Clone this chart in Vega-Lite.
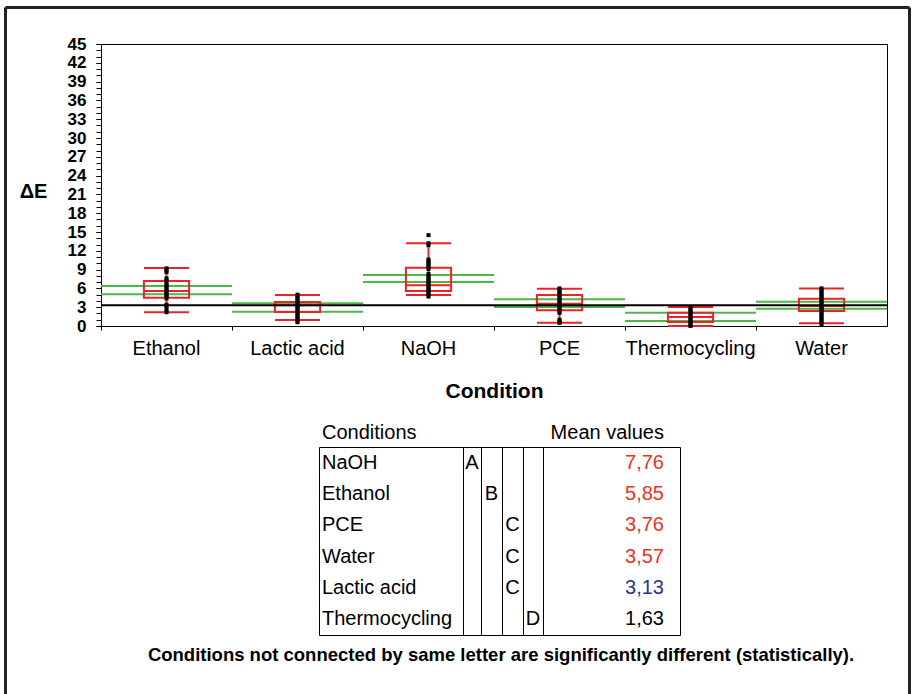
{
  "$schema": "https://vega.github.io/schema/vega-lite/v6.json",
  "padding": {"left": 3, "top": 5, "right": 0, "bottom": 0},
  "autosize": {"type": "pad"},
  "background": "white",
  "config": {
    "font": "Liberation Sans",
    "view": {"stroke": "black", "strokeWidth": 1},
    "axisY": {"labelOverlap": false},
    "locale": {"number": {"decimal": ",", "thousands": ".", "grouping": [3], "currency": ["", " €"]}},
    "title": {"font": "Liberation Sans", "color": "black"}
  },
  "datasets": {
    "stats": [
      {"Condition": "Ethanol", "lo": 2.2, "q1": 4.5, "median": 5.6, "q3": 7.2, "hi": 9.25, "ciLo": 5.05, "ciHi": 6.38},
      {"Condition": "Lactic acid", "lo": 0.96, "q1": 2.23, "median": 3.3, "q3": 3.83, "hi": 4.94, "ciLo": 2.28, "ciHi": 3.62},
      {"Condition": "NaOH", "lo": 4.94, "q1": 5.58, "median": 6.5, "q3": 9.3, "hi": 13.2, "ciLo": 7.02, "ciHi": 8.13},
      {"Condition": "PCE", "lo": 0.53, "q1": 2.5, "median": 3.56, "q3": 4.94, "hi": 5.95, "ciLo": 3.03, "ciHi": 4.25},
      {"Condition": "Thermocycling", "lo": 0.0, "q1": 0.64, "median": 1.44, "q3": 2.12, "hi": 3.03, "ciLo": 0.8, "ciHi": 2.12},
      {"Condition": "Water", "lo": 0.43, "q1": 2.39, "median": 3.19, "q3": 4.36, "hi": 6.0, "ciLo": 2.76, "ciHi": 3.88}
    ],
    "points": [
      {"Condition": "Ethanol", "dE": 9.2}, {"Condition": "Ethanol", "dE": 8.9}, {"Condition": "Ethanol", "dE": 8.6},
      {"Condition": "Ethanol", "dE": 7.6}, {"Condition": "Ethanol", "dE": 7.3}, {"Condition": "Ethanol", "dE": 6.8},
      {"Condition": "Ethanol", "dE": 6.5}, {"Condition": "Ethanol", "dE": 6.2}, {"Condition": "Ethanol", "dE": 5.9},
      {"Condition": "Ethanol", "dE": 5.6}, {"Condition": "Ethanol", "dE": 5.3}, {"Condition": "Ethanol", "dE": 5.0},
      {"Condition": "Ethanol", "dE": 4.7}, {"Condition": "Ethanol", "dE": 4.4}, {"Condition": "Ethanol", "dE": 3.4},
      {"Condition": "Ethanol", "dE": 3.1}, {"Condition": "Ethanol", "dE": 2.6}, {"Condition": "Ethanol", "dE": 2.2},
      {"Condition": "Lactic acid", "dE": 5.0}, {"Condition": "Lactic acid", "dE": 4.7}, {"Condition": "Lactic acid", "dE": 4.4},
      {"Condition": "Lactic acid", "dE": 4.1}, {"Condition": "Lactic acid", "dE": 3.8}, {"Condition": "Lactic acid", "dE": 3.5},
      {"Condition": "Lactic acid", "dE": 3.2}, {"Condition": "Lactic acid", "dE": 2.9}, {"Condition": "Lactic acid", "dE": 2.6},
      {"Condition": "Lactic acid", "dE": 2.3}, {"Condition": "Lactic acid", "dE": 2.0}, {"Condition": "Lactic acid", "dE": 1.7},
      {"Condition": "Lactic acid", "dE": 1.4}, {"Condition": "Lactic acid", "dE": 1.1}, {"Condition": "Lactic acid", "dE": 0.8},
      {"Condition": "Lactic acid", "dE": 0.6},
      {"Condition": "NaOH", "dE": 14.5}, {"Condition": "NaOH", "dE": 13.2}, {"Condition": "NaOH", "dE": 12.9},
      {"Condition": "NaOH", "dE": 10.6}, {"Condition": "NaOH", "dE": 10.3}, {"Condition": "NaOH", "dE": 10.0},
      {"Condition": "NaOH", "dE": 9.7}, {"Condition": "NaOH", "dE": 9.4}, {"Condition": "NaOH", "dE": 9.1},
      {"Condition": "NaOH", "dE": 8.3}, {"Condition": "NaOH", "dE": 8.0}, {"Condition": "NaOH", "dE": 7.7},
      {"Condition": "NaOH", "dE": 7.4}, {"Condition": "NaOH", "dE": 7.1}, {"Condition": "NaOH", "dE": 6.8},
      {"Condition": "NaOH", "dE": 6.5}, {"Condition": "NaOH", "dE": 6.2}, {"Condition": "NaOH", "dE": 5.9},
      {"Condition": "NaOH", "dE": 5.6}, {"Condition": "NaOH", "dE": 5.3}, {"Condition": "NaOH", "dE": 5.0},
      {"Condition": "NaOH", "dE": 4.7},
      {"Condition": "PCE", "dE": 6.0}, {"Condition": "PCE", "dE": 5.7}, {"Condition": "PCE", "dE": 5.4},
      {"Condition": "PCE", "dE": 5.1}, {"Condition": "PCE", "dE": 4.8}, {"Condition": "PCE", "dE": 4.5},
      {"Condition": "PCE", "dE": 4.2}, {"Condition": "PCE", "dE": 3.9}, {"Condition": "PCE", "dE": 3.6},
      {"Condition": "PCE", "dE": 3.3}, {"Condition": "PCE", "dE": 3.0}, {"Condition": "PCE", "dE": 2.7},
      {"Condition": "PCE", "dE": 2.4}, {"Condition": "PCE", "dE": 2.1}, {"Condition": "PCE", "dE": 1.0},
      {"Condition": "PCE", "dE": 0.7}, {"Condition": "PCE", "dE": 0.5},
      {"Condition": "Thermocycling", "dE": 2.9}, {"Condition": "Thermocycling", "dE": 2.6}, {"Condition": "Thermocycling", "dE": 2.3},
      {"Condition": "Thermocycling", "dE": 2.0}, {"Condition": "Thermocycling", "dE": 1.7}, {"Condition": "Thermocycling", "dE": 1.4},
      {"Condition": "Thermocycling", "dE": 1.1}, {"Condition": "Thermocycling", "dE": 0.8}, {"Condition": "Thermocycling", "dE": 0.5},
      {"Condition": "Thermocycling", "dE": 0.2}, {"Condition": "Thermocycling", "dE": 0.0},
      {"Condition": "Water", "dE": 6.0}, {"Condition": "Water", "dE": 5.7}, {"Condition": "Water", "dE": 5.4},
      {"Condition": "Water", "dE": 5.1}, {"Condition": "Water", "dE": 4.8}, {"Condition": "Water", "dE": 4.5},
      {"Condition": "Water", "dE": 4.2}, {"Condition": "Water", "dE": 3.9}, {"Condition": "Water", "dE": 3.6},
      {"Condition": "Water", "dE": 3.3}, {"Condition": "Water", "dE": 3.0}, {"Condition": "Water", "dE": 2.7},
      {"Condition": "Water", "dE": 2.4}, {"Condition": "Water", "dE": 2.1}, {"Condition": "Water", "dE": 1.8},
      {"Condition": "Water", "dE": 1.5}, {"Condition": "Water", "dE": 1.2}, {"Condition": "Water", "dE": 0.9},
      {"Condition": "Water", "dE": 0.6}, {"Condition": "Water", "dE": 0.3}
    ],
    "threshold": [{"label": "ΔE threshold", "dE": 3.3}],
    "table": [
      {"Condition": "NaOH", "letter": "A", "mean": 7.76, "rating": "above"},
      {"Condition": "Ethanol", "letter": "B", "mean": 5.85, "rating": "above"},
      {"Condition": "PCE", "letter": "C", "mean": 3.76, "rating": "above"},
      {"Condition": "Water", "letter": "C", "mean": 3.57, "rating": "above"},
      {"Condition": "Lactic acid", "letter": "C", "mean": 3.13, "rating": "near"},
      {"Condition": "Thermocycling", "letter": "D", "mean": 1.63, "rating": "below"}
    ]
  },
  "vconcat": [
    {
      "width": 786,
      "height": 282,
      "resolve": {"scale": {"x": "independent", "y": "independent"}},
      "layer": [
        {
          "layer": [
            {
              "data": {"name": "stats"},
              "mark": {"type": "rule", "color": "#4cb848", "strokeWidth": 2},
              "encoding": {
                "x": {
                  "field": "Condition", "type": "nominal", "bandPosition": 0,
                  "scale": {"type": "band", "paddingInner": 0, "paddingOuter": 0},
                  "title": "Condition",
                  "axis": {
                    "orient": "bottom", "bandPosition": 0, "tickSize": 4, "tickColor": "black",
                    "domainColor": "black", "labelFontSize": 20, "labelColor": "black",
                    "labelPadding": 8, "labelAngle": 0, "titleFontSize": 21, "titleFontWeight": "bold",
                    "titleColor": "black", "titlePadding": 22, "grid": false
                  }
                },
                "x2": {"field": "Condition", "bandPosition": 1},
                "y": {
                  "field": "ciHi", "type": "quantitative",
                  "scale": {"domain": [0, 45], "nice": false},
                  "title": "ΔE",
                  "axis": {
                    "orient": "left",
                    "values": [0, 6, 12, 18, 24, 30, 36, 42],
                    "labelOverlap": false, "labelFontSize": 17, "labelFontWeight": "bold",
                    "labelColor": "black", "labelPadding": 10, "tickSize": 5, "tickColor": "black",
                    "domainColor": "black", "grid": false,
                    "titleAngle": 0, "titleX": -68, "titleY": 147, "titleAlign": "center",
                    "titleBaseline": "middle", "titleFontSize": 20, "titleFontWeight": "bold", "titleColor": "black"
                  }
                }
              }
            },
            {
              "data": {"name": "stats"},
              "mark": {"type": "rule", "color": "#4cb848", "strokeWidth": 2},
              "encoding": {
                "x": {"field": "Condition", "type": "nominal", "bandPosition": 0},
                "x2": {"field": "Condition", "bandPosition": 1},
                "y": {"field": "ciLo", "type": "quantitative"}
              }
            },
            {
              "data": {"name": "stats"},
              "mark": {"type": "rule", "color": "#ec2227", "strokeWidth": 2},
              "encoding": {
                "x": {"field": "Condition", "type": "nominal"},
                "y": {"field": "lo", "type": "quantitative"},
                "y2": {"field": "hi"}
              }
            },
            {
              "data": {"name": "stats"},
              "mark": {"type": "bar", "fill": "transparent", "stroke": "#ec2227", "strokeWidth": 2, "width": {"band": 0.345}},
              "encoding": {
                "x": {"field": "Condition", "type": "nominal"},
                "y": {"field": "q1", "type": "quantitative"},
                "y2": {"field": "q3"}
              }
            },
            {
              "data": {"name": "stats"},
              "mark": {"type": "tick", "color": "#ec2227", "size": 45, "thickness": 2, "opacity": 1},
              "encoding": {
                "x": {"field": "Condition", "type": "nominal"},
                "y": {"field": "lo", "type": "quantitative"}
              }
            },
            {
              "data": {"name": "stats"},
              "mark": {"type": "tick", "color": "#ec2227", "size": 45, "thickness": 2, "opacity": 1},
              "encoding": {
                "x": {"field": "Condition", "type": "nominal"},
                "y": {"field": "hi", "type": "quantitative"}
              }
            },
            {
              "data": {"name": "stats"},
              "mark": {"type": "tick", "color": "#ec2227", "size": 45, "thickness": 2, "opacity": 1},
              "encoding": {
                "x": {"field": "Condition", "type": "nominal"},
                "y": {"field": "median", "type": "quantitative"}
              }
            }
          ]
        },
        {
          "data": {"name": "threshold"},
          "layer": [
            {
              "mark": {"type": "rule", "color": "#222222", "strokeWidth": 3, "clip": false},
              "encoding": {
                "x": {"datum": 0, "type": "quantitative", "scale": {"domain": [0, 1], "range": [-95.5, 808.5], "nice": false, "zero": false}, "axis": null},
                "y": {"datum": 0, "type": "quantitative", "scale": {"domain": [0, 1], "range": [-36.5, 651], "nice": false, "zero": false}, "axis": null},
                "y2": {"datum": 1}
              }
            },
            {
              "mark": {"type": "rule", "color": "#222222", "strokeWidth": 3, "clip": false},
              "encoding": {
                "x": {"datum": 1, "type": "quantitative"},
                "y": {"datum": 0, "type": "quantitative"},
                "y2": {"datum": 1}
              }
            },
            {
              "mark": {"type": "rule", "color": "#222222", "strokeWidth": 3, "clip": false},
              "encoding": {
                "x": {"datum": 0, "type": "quantitative"},
                "x2": {"datum": 1},
                "y": {"datum": 0, "type": "quantitative"}
              }
            }
          ]
        },
        {
          "data": {"name": "threshold"},
          "mark": {"type": "rule", "color": "black", "strokeWidth": 2},
          "encoding": {
            "y": {
              "field": "dE", "type": "quantitative",
              "scale": {"domain": [0, 45], "nice": false},
              "axis": {
                "orient": "left", "title": null, "domain": false,
                "values": [3, 9, 15, 21, 27, 33, 39, 45],
                "labelOverlap": false, "labelFontSize": 17, "labelFontWeight": "bold",
                "labelColor": "black", "labelPadding": 10,
                "tickSize": 5, "tickColor": "black", "grid": false
              }
            }
          }
        },
        {
          "data": {"name": "points"},
          "mark": {"type": "square", "size": 16, "filled": true, "color": "black", "opacity": 1},
          "encoding": {
            "x": {"field": "Condition", "type": "nominal", "scale": {"type": "band", "paddingInner": 0, "paddingOuter": 0}, "axis": null},
            "y": {
              "field": "dE", "type": "quantitative",
              "scale": {"domain": [0, 45], "nice": false},
              "axis": {
                "orient": "left", "title": null, "labels": false, "domain": false,
                "values": [0,1,2,3,4,5,6,7,8,9,10,11,12,13,14,15,16,17,18,19,20,21,22,23,24,25,26,27,28,29,30,31,32,33,34,35,36,37,38,39,40,41,42,43,44,45],
                "tickSize": 5, "tickColor": "black", "grid": false
              }
            }
          }
        }
      ]
    },
    {
      "spacing": 0,
      "bounds": "flush",
      "title": {
        "text": "Conditions not connected by same letter are significantly different (statistically).",
        "orient": "bottom", "anchor": "middle", "fontSize": 18.5, "fontWeight": "bold", "offset": 10
      },
      "hconcat": [
        {
          "width": 218, "height": 188,
          "view": {"stroke": null},
          "data": {"name": "table"},
          "mark": {"type": "text"},
          "encoding": {"text": {"value": ""}}
        },
        {
          "width": 144, "height": 188,
          "data": {"name": "table"},
          "title": {"text": "Conditions", "anchor": "start", "fontSize": 20, "fontWeight": "normal", "dx": 3, "offset": -12, "baseline": "alphabetic"},
          "mark": {"type": "text", "align": "left", "baseline": "middle", "fontSize": 20, "dx": 3, "color": "black"},
          "encoding": {
            "y": {"field": "Condition", "type": "nominal", "sort": {"field": "mean", "order": "descending"}, "scale": {"type": "band", "paddingInner": 0, "paddingOuter": 0}, "axis": null},
            "x": {"datum": 0, "type": "quantitative", "scale": {"domain": [0, 1], "nice": false, "zero": false}, "axis": null},
            "text": {"field": "Condition"}
          }
        },
        {
          "width": 18, "height": 188,
          "data": {"name": "table"},
          "mark": {"type": "text", "baseline": "middle", "fontSize": 20, "color": "black"},
          "encoding": {
            "y": {"field": "Condition", "type": "nominal", "sort": {"field": "mean", "order": "descending"}, "scale": {"type": "band", "paddingInner": 0, "paddingOuter": 0}, "axis": null},
            "text": {"condition": {"test": "datum.letter === 'A'", "field": "letter"}, "value": ""}
          }
        },
        {
          "width": 21, "height": 188,
          "data": {"name": "table"},
          "mark": {"type": "text", "baseline": "middle", "fontSize": 20, "color": "black"},
          "encoding": {
            "y": {"field": "Condition", "type": "nominal", "sort": {"field": "mean", "order": "descending"}, "scale": {"type": "band", "paddingInner": 0, "paddingOuter": 0}, "axis": null},
            "text": {"condition": {"test": "datum.letter === 'B'", "field": "letter"}, "value": ""}
          }
        },
        {
          "width": 21, "height": 188,
          "data": {"name": "table"},
          "mark": {"type": "text", "baseline": "middle", "fontSize": 20, "color": "black"},
          "encoding": {
            "y": {"field": "Condition", "type": "nominal", "sort": {"field": "mean", "order": "descending"}, "scale": {"type": "band", "paddingInner": 0, "paddingOuter": 0}, "axis": null},
            "text": {"condition": {"test": "datum.letter === 'C'", "field": "letter"}, "value": ""}
          }
        },
        {
          "width": 20, "height": 188,
          "data": {"name": "table"},
          "mark": {"type": "text", "baseline": "middle", "fontSize": 20, "color": "black"},
          "encoding": {
            "y": {"field": "Condition", "type": "nominal", "sort": {"field": "mean", "order": "descending"}, "scale": {"type": "band", "paddingInner": 0, "paddingOuter": 0}, "axis": null},
            "text": {"condition": {"test": "datum.letter === 'D'", "field": "letter"}, "value": ""}
          }
        },
        {
          "width": 137, "height": 188,
          "data": {"name": "table"},
          "title": {"text": "Mean values", "anchor": "end", "fontSize": 20, "fontWeight": "normal", "dx": -16, "offset": -12, "baseline": "alphabetic"},
          "mark": {"type": "text", "align": "right", "baseline": "middle", "fontSize": 20, "dx": -16},
          "encoding": {
            "y": {"field": "Condition", "type": "nominal", "sort": {"field": "mean", "order": "descending"}, "scale": {"type": "band", "paddingInner": 0, "paddingOuter": 0}, "axis": null},
            "x": {"datum": 1, "type": "quantitative", "scale": {"domain": [0, 1], "nice": false, "zero": false}, "axis": null},
            "text": {"field": "mean", "type": "quantitative", "format": ".2f"},
            "color": {"field": "rating", "type": "nominal", "scale": {"domain": ["above", "near", "below"], "range": ["#ee3124", "#2e3192", "#000000"]}, "legend": null}
          }
        },
        {
          "width": 221, "height": 188,
          "view": {"stroke": null},
          "data": {"name": "table"},
          "mark": {"type": "text"},
          "encoding": {"text": {"value": ""}}
        }
      ]
    }
  ],
  "spacing": 121,
  "bounds": "flush"
}
